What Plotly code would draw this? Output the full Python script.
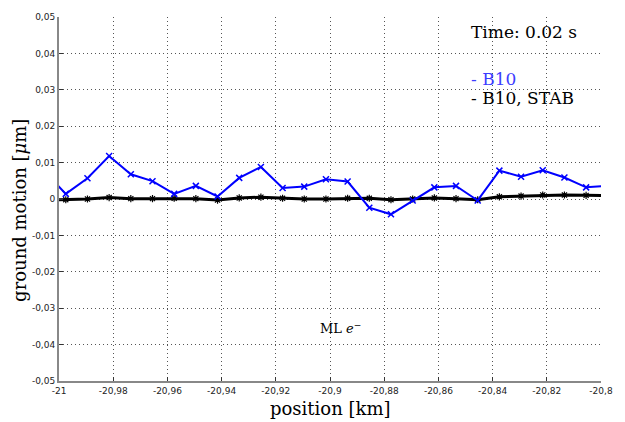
import plotly.graph_objects as go

# Beamline positions [km] and ground motion [um] for each configuration
position_km = [-21.0055, -20.9975, -20.9895, -20.9815, -20.9735, -20.9655, -20.9575,
               -20.9495, -20.9415, -20.9335, -20.9255, -20.9175, -20.9095, -20.9015,
               -20.8935, -20.8855, -20.8775, -20.8695, -20.8615, -20.8535, -20.8455,
               -20.8375, -20.8295, -20.8215, -20.8135, -20.8055, -20.7975]
motion_b10 = [0.0077, 0.0014, 0.0057, 0.0118, 0.0068, 0.0049, 0.0014,
              0.0036, 0.0007, 0.0058, 0.0088, 0.0030, 0.0034, 0.0054,
              0.0048, -0.0024, -0.0042, -0.0004, 0.0032, 0.0036, -0.0004,
              0.0078, 0.0061, 0.0079, 0.0059, 0.0032, 0.0036]
motion_b10_stab = [-0.0003, -0.0002, 0.0000, 0.0004, 0.0001, 0.0001, 0.0002,
                   0.0001, -0.0003, 0.0003, 0.0005, 0.0002, 0.0000, 0.0000,
                   0.0002, 0.0002, -0.0002, 0.0000, 0.0003, 0.0001, -0.0002,
                   0.0006, 0.0008, 0.0011, 0.0011, 0.0010, 0.0009]

x_ticks = [-21, -20.98, -20.96, -20.94, -20.92, -20.9, -20.88, -20.86, -20.84, -20.82, -20.8]
x_tick_text = ["-21", "-20,98", "-20,96", "-20,94", "-20,92", "-20,9", "-20,88",
               "-20,86", "-20,84", "-20,82", "-20,8"]
y_ticks = [-0.05, -0.04, -0.03, -0.02, -0.01, 0, 0.01, 0.02, 0.03, 0.04, 0.05]
y_tick_text = ["-0,05", "-0,04", "-0,03", "-0,02", "-0,01", "0", "0,01", "0,02",
               "0,03", "0,04", "0,05"]

serif = "DejaVu Serif, serif"
tick_font = dict(family="DejaVu Sans, sans-serif", size=9, color="#222")

fig = go.Figure()
fig.add_trace(go.Scatter(
    x=position_km, y=motion_b10_stab, mode="lines+markers",
    line=dict(color="black", width=3),
    marker=dict(symbol="asterisk-open", size=6, line=dict(color="black", width=1.2)),
    name="B10, STAB", showlegend=False,
))
fig.add_trace(go.Scatter(
    x=position_km, y=motion_b10, mode="lines+markers",
    line=dict(color="#0000ff", width=2),
    marker=dict(symbol="x-thin", size=6, line=dict(color="#0000ff", width=1.5)),
    name="B10", showlegend=False,
))

grid = dict(showgrid=True, gridcolor="#555", griddash="1px,3px", gridwidth=1)

fig.update_xaxes(
    range=[-21, -20.8], tickvals=x_ticks, ticktext=x_tick_text, tickfont=tick_font,
    ticks="inside", ticklen=4, tickcolor="#333", showline=True, linecolor="#888",
    linewidth=2, zeroline=False, mirror=False, **grid,
)
fig.update_yaxes(
    range=[-0.05, 0.05], tickvals=y_ticks, ticktext=y_tick_text, tickfont=tick_font,
    ticks="inside", ticklen=4, tickcolor="#333", showline=True, linecolor="#888",
    linewidth=2, zeroline=False, mirror=False, **grid,
)

annotations = [
    dict(text="Time: 0.02 s", x=0.756, y=0.958, xanchor="left", yanchor="middle",
         font=dict(family=serif, size=17, color="black")),
    dict(text="- B10", x=0.756, y=0.830, xanchor="left", yanchor="middle",
         font=dict(family=serif, size=17, color="#3c3cff")),
    dict(text="- B10, STAB", x=0.756, y=0.778, xanchor="left", yanchor="middle",
         font=dict(family=serif, size=17, color="black")),
    dict(text="ML <i>e</i><sup>−</sup>", x=0.477, y=0.146, xanchor="left", yanchor="middle",
         font=dict(family=serif, size=13, color="black")),
    dict(text="position [km]", x=0.5, y=-0.076, xanchor="center", yanchor="middle",
         font=dict(family=serif, size=18, color="black")),
    dict(text="ground motion [<i>μ</i>m]", x=-0.072, y=0.47, xanchor="center",
         yanchor="middle", textangle=-90,
         font=dict(family=serif, size=18, color="black")),
]
for a in annotations:
    a.update(xref="paper", yref="paper", showarrow=False)

fig.update_layout(
    width=625, height=422,
    margin=dict(l=59, r=14, t=12, b=41),
    paper_bgcolor="white", plot_bgcolor="white",
    annotations=annotations,
)

fig.write_html("out.html")
